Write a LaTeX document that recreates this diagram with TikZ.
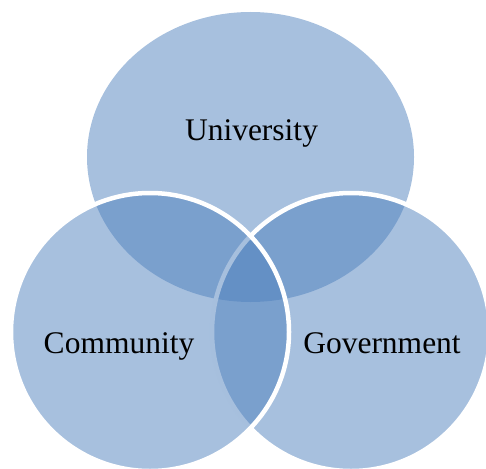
\documentclass[tikz,border=0pt]{standalone}
\usepackage{fontspec}
\setmainfont{Liberation Serif}
\definecolor{accent}{RGB}{79,129,189}
\tikzset{
  vennset/.style={fill=accent, fill opacity=0.5, draw=white, line width=4.5pt},
  vennlabel/.style={font=\fontsize{31.5}{38}\selectfont, text=black, anchor=base, inner sep=0pt}
}
\begin{document}
\begin{tikzpicture}[x=1pt,y=-1pt]
  \useasboundingbox (0,0) rectangle (486,468);
  \clip (0,0) rectangle (486,468);
  \fill[accent, fill opacity=0.5] (250.5,157) ellipse [x radius=163.5, y radius=145];
  \path[vennset] (351,332) circle [radius=139];
  \path[vennset] (150,332) circle [radius=139];
  \node[vennlabel] (uni) at (251.5,140) {University};
  \node[vennlabel] (com) at (119,353) {Community};
  \node[vennlabel] (gov) at (382,353) {Government};
\end{tikzpicture}
\end{document}
